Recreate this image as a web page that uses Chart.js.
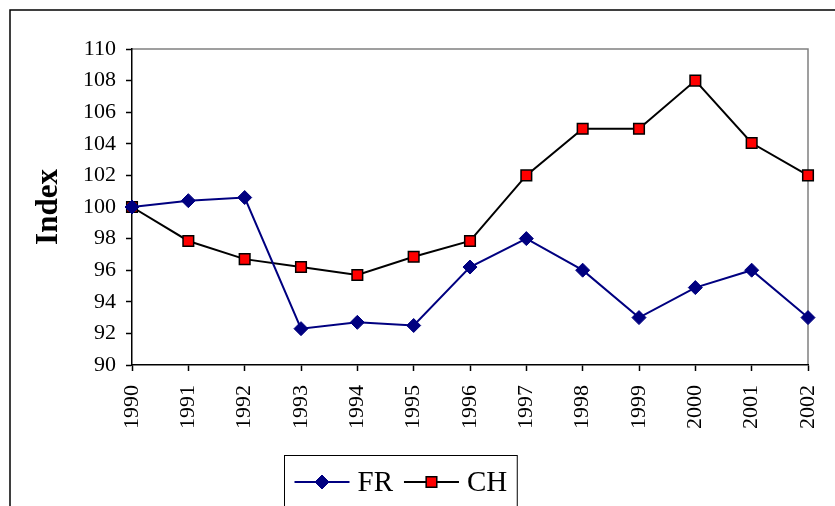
<!DOCTYPE html>
<html>
<head>
<meta charset="utf-8">
<script src="https://cdn.jsdelivr.net/npm/chart.js@4/dist/chart.umd.min.js"></script>
<style>
  html, body { margin: 0; padding: 0; background: #fff; }
  #wrap { width: 835px; height: 506px; position: relative; }
</style>
</head>
<body>
<div id="wrap"><canvas id="c" width="835" height="506"></canvas></div>
<script>
const years = ['1990','1991','1992','1993','1994','1995','1996','1997','1998','1999','2000','2001','2002'];
const frValues = [100, 100.4, 100.6, 92.3, 92.7, 92.5, 96.2, 98.0, 96.0, 93.0, 94.9, 96.0, 93.0];
const chValues = [100, 97.85, 96.7, 96.2, 95.7, 96.85, 97.85, 102.0, 104.95, 104.95, 108.0, 104.05, 102.0];
const yMin = 90, yMax = 110, yStep = 2;
const yTitle = 'Index';

const serif = "'Liberation Serif', 'Times New Roman', serif";

const framePlugin = {
  id: 'framePlugin',
  beforeDraw(chart) {
    const ctx = chart.ctx;
    ctx.save();
    ctx.fillStyle = '#fff';
    ctx.fillRect(0, 0, chart.width, chart.height);
    ctx.strokeStyle = '#000';
    ctx.lineWidth = 1.5;
    ctx.strokeRect(10, 10, 900, 600);
    const a = chart.chartArea;
    ctx.strokeStyle = '#808080';
    ctx.lineWidth = 1.5;
    ctx.beginPath();
    ctx.moveTo(a.left, a.top);
    ctx.lineTo(a.right, a.top);
    ctx.lineTo(a.right, a.bottom);
    ctx.stroke();
    ctx.restore();
  },
  afterDraw(chart) {
    const ctx = chart.ctx;
    ctx.save();
    ctx.font = "29px " + serif;
    const lineLen = 55, gapText = 8, gapItem = 11, padX = 10;
    const items = chart.data.datasets.map(ds => ({ ds, w: ctx.measureText(ds.label).width }));
    let total = 0;
    items.forEach((it, i) => { total += lineLen + gapText + it.w + (i < items.length - 1 ? gapItem : 0); });
    const boxW = total + 2 * padX;
    const cx = 400.5;
    const boxX = Math.round(cx - boxW / 2) + 0.5;
    const boxY = 455.5;
    ctx.strokeStyle = '#000';
    ctx.lineWidth = 1;
    ctx.strokeRect(boxX, boxY, boxW, 60);
    let x = boxX + padX;
    const y = 482;
    items.forEach(it => {
      const ds = it.ds;
      ctx.strokeStyle = ds.borderColor;
      ctx.lineWidth = 2;
      ctx.beginPath();
      ctx.moveTo(x, y);
      ctx.lineTo(x + lineLen, y);
      ctx.stroke();
      ctx.fillStyle = ds.pointBackgroundColor;
      ctx.strokeStyle = ds.pointBorderColor;
      ctx.lineWidth = ds.pointBorderWidth;
      Chart.helpers.drawPoint(ctx, {
        pointStyle: ds.pointStyle,
        radius: ds.pointRadius,
        borderWidth: ds.pointBorderWidth,
        rotation: 0
      }, x + lineLen / 2, y);
      x += lineLen + gapText;
      ctx.fillStyle = '#000';
      ctx.font = "29px " + serif;
      ctx.textBaseline = 'middle';
      ctx.textAlign = 'left';
      ctx.fillText(ds.label, x, y + 1);
      x += it.w + gapItem;
    });
    ctx.restore();
  }
};

new Chart(document.getElementById('c'), {
  type: 'line',
  data: {
    labels: years,
    datasets: [
      {
        label: 'FR',
        data: frValues,
        borderColor: '#000080',
        borderWidth: 2,
        pointStyle: 'rectRot',
        pointRadius: 7,
        pointBackgroundColor: '#000080',
        pointBorderColor: '#000080',
        pointBorderWidth: 1,
        tension: 0,
        clip: false
      },
      {
        label: 'CH',
        data: chValues,
        borderColor: '#000000',
        borderWidth: 2,
        pointStyle: 'rect',
        pointRadius: 7.5,
        pointBackgroundColor: '#ff0000',
        pointBorderColor: '#000000',
        pointBorderWidth: 1.5,
        tension: 0,
        clip: false
      }
    ]
  },
  options: {
    responsive: false,
    animation: false,
    layout: { padding: { left: 26, right: 27, top: 49, bottom: 0 } },
    plugins: { legend: { display: false }, tooltip: { enabled: false } },
    scales: {
      x: {
        offset: false,
        grid: { drawOnChartArea: false, tickLength: 6, color: '#000', tickColor: '#000', tickWidth: 1.5 },
        border: { display: true, color: '#000', width: 1.5 },
        ticks: { minRotation: 90, maxRotation: 90, padding: 14, color: '#000', font: { family: serif, size: 22 }, autoSkip: false },
        afterFit(scale) { scale.height = 141; scale.paddingLeft = 0; scale.paddingRight = 0; }
      },
      y: {
        min: yMin, max: yMax,
        grid: { drawOnChartArea: false, tickLength: 6, color: '#000', tickColor: '#000', tickWidth: 1.5 },
        border: { display: true, color: '#000', width: 1.5 },
        ticks: { stepSize: yStep, padding: 10, color: '#000', font: { family: serif, size: 22 } },
        title: { display: true, text: yTitle, color: '#000', font: { family: serif, size: 31, weight: 'bold' }, padding: { top: 4, bottom: 4 } },
        afterFit(scale) { scale.width = 106; scale.paddingTop = 0; scale.paddingBottom = 0; }
      }
    }
  },
  plugins: [framePlugin]
});
</script>
</body>
</html>
